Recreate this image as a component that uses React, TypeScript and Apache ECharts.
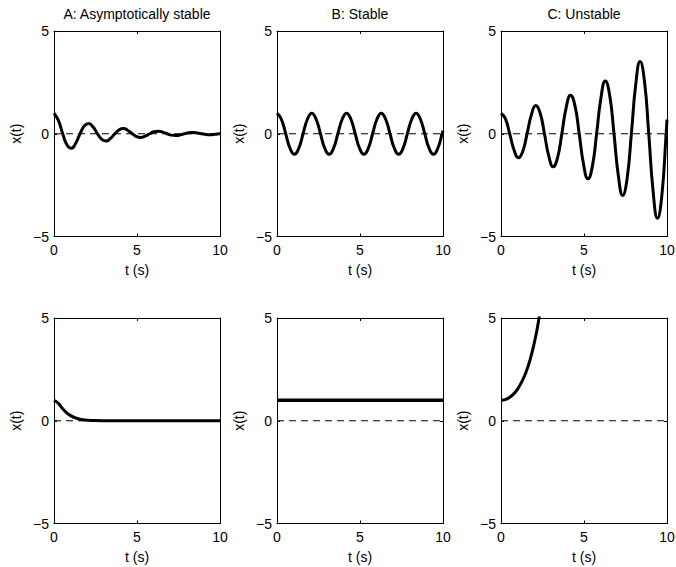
import React, { useEffect, useRef } from 'react';
import * as echarts from 'echarts';

// ---- Data ----
const panelTitles = ['A: Asymptotically stable', 'B: Stable', 'C: Unstable'];
const xTicks = [0, 5, 10];
const yTicks = [-5, 0, 5];
const xName = 't (s)';
const yName = 'x(t)';

// time samples for oscillating responses (top row)
const tOsc = [
  0, 0.262, 0.524, 0.785, 1.047, 1.309, 1.571, 1.833, 2.094, 2.356,
  2.618, 2.88, 3.142, 3.403, 3.665, 3.927, 4.189, 4.451, 4.712, 4.974,
  5.236, 5.498, 5.76, 6.021, 6.283, 6.545, 6.807, 7.069, 7.33, 7.592,
  7.854, 8.116, 8.378, 8.639, 8.901, 9.163, 9.425, 9.687, 9.948, 10,
];
const xAsymOsc = [
  1, 0.648, 0, -0.545, -0.707, -0.458, 0, 0.385, 0.5, 0.325,
  0, -0.273, -0.354, -0.229, 0, 0.193, 0.25, 0.162, 0, -0.136,
  -0.177, -0.115, 0, 0.096, 0.125, 0.081, 0, -0.068, -0.088, -0.057,
  0, 0.048, 0.063, 0.04, 0, -0.034, -0.044, -0.028, 0, 0.005,
];
const xStableOsc = [
  1, 0.707, 0, -0.707, -1, -0.707, 0, 0.707, 1, 0.707,
  0, -0.707, -1, -0.707, 0, 0.707, 1, 0.707, 0, -0.707,
  -1, -0.707, 0, 0.707, 1, 0.707, 0, -0.707, -1, -0.707,
  0, 0.707, 1, 0.707, 0, -0.707, -1, -0.707, 0, 0.15,
];
const xUnstableOsc = [
  1, 0.735, 0, -0.795, -1.17, -0.86, 0, 0.93, 1.369, 1.007,
  0, -1.089, -1.602, -1.178, 0, 1.274, 1.874, 1.378, 0, -1.491,
  -2.193, -1.613, 0, 1.745, 2.566, 1.887, 0, -2.041, -3.003, -2.208,
  0, 2.388, 3.514, 2.583, 0, -2.795, -4.111, -3.023, 0, 0.69,
];

// bottom row
const tDecay = [0, 0.25, 0.5, 0.75, 1, 1.25, 1.5, 1.75, 2, 2.5, 3, 4, 5, 6, 7, 8, 9, 10];
const xDecay = [1, 0.86, 0.61, 0.39, 0.25, 0.15, 0.088, 0.05, 0.029, 0.009, 0.003, 0, 0, 0, 0, 0, 0, 0];
const tConst = [0, 10];
const xConst = [1, 1];
const tGrow = [0, 0.25, 0.5, 0.75, 1, 1.25, 1.5, 1.75, 2, 2.25, 2.5];
const xGrow = [1, 1.031, 1.128, 1.295, 1.543, 1.888, 2.352, 2.964, 3.762, 4.797, 6.132];

const tZero = [0, 10];
const xZero = [0, 0];

// ---- Layout ----
const FONT = '"Liberation Sans", Arial, Helvetica, sans-serif';
const lefts = [54, 277, 501];
const tops = [31, 318];
const gw = 166;
const gh = 205.5;

const zip = (t: number[], v: number[]) => t.map((x, i) => [x, v[i]]);

const panels = [
  { t: tOsc, v: xAsymOsc, smooth: 0.5 },
  { t: tOsc, v: xStableOsc, smooth: 0.5 },
  { t: tOsc, v: xUnstableOsc, smooth: 0.5 },
  { t: tDecay, v: xDecay, smooth: 0.4 },
  { t: tConst, v: xConst, smooth: false },
  { t: tGrow, v: xGrow, smooth: 0.4 },
];

const minusFmt = (v: number) => (v < 0 ? '\u2212' + Math.abs(v) : String(v));

function buildOption() {
  const grid: any[] = [];
  const xAxis: any[] = [];
  const yAxis: any[] = [];
  const series: any[] = [];
  const xMin = xTicks[0];
  const xMax = xTicks[xTicks.length - 1];
  const xInt = xTicks[1] - xTicks[0];
  const yMin = yTicks[0];
  const yMax = yTicks[yTicks.length - 1];
  const yInt = yTicks[1] - yTicks[0];

  const lineStyle = { color: '#000', width: 1 };
  const tick = { show: true, inside: true, length: 3, lineStyle: { color: '#000', width: 1 } };
  const label = { color: '#000', fontSize: 14, fontFamily: FONT };

  panels.forEach((p, i) => {
    const r = Math.floor(i / 3);
    const c = i % 3;
    grid.push({
      left: lefts[c],
      top: tops[r],
      width: gw,
      height: gh,
      containLabel: false,
      outerBoundsMode: 'none',
      show: false,
    });
    const baseX = {
      gridIndex: i,
      type: 'value',
      min: xMin,
      max: xMax,
      interval: xInt,
      splitLine: { show: false },
      axisLine: { show: true, onZero: false, lineStyle },
      axisTick: tick,
    };
    xAxis.push({
      ...baseX,
      position: 'bottom',
      axisLabel: { ...label, margin: 6, showMinLabel: true, showMaxLabel: true },
      name: xName,
      nameLocation: 'middle',
      nameGap: 26,
      nameTextStyle: { ...label },
    });
    xAxis.push({ ...baseX, position: 'top', axisLabel: { show: false } });
    const baseY = {
      gridIndex: i,
      type: 'value',
      min: yMin,
      max: yMax,
      interval: yInt,
      splitLine: { show: false },
      axisLine: { show: true, onZero: false, lineStyle },
      axisTick: tick,
    };
    yAxis.push({
      ...baseY,
      position: 'left',
      axisLabel: { ...label, margin: 5, formatter: minusFmt, showMinLabel: true, showMaxLabel: true },
      name: yName,
      nameLocation: 'middle',
      nameGap: 31,
      nameTextStyle: { ...label },
    });
    yAxis.push({ ...baseY, position: 'right', axisLabel: { show: false } });

    series.push({
      type: 'line',
      xAxisIndex: 2 * i,
      yAxisIndex: 2 * i,
      data: zip(tZero, xZero),
      showSymbol: false,
      silent: true,
      lineStyle: { color: '#000', width: 1, type: [7, 5] },
      z: 2,
    });
    series.push({
      type: 'line',
      xAxisIndex: 2 * i,
      yAxisIndex: 2 * i,
      data: zip(p.t, p.v),
      smooth: p.smooth,
      showSymbol: false,
      silent: true,
      clip: true,
      lineStyle: { color: '#000', width: i === 4 ? 3.5 : 3 },
      z: 3,
    });
  });

  const graphic = panelTitles.map((t, c) => ({
    type: 'text',
    x: lefts[c] + gw / 2,
    y: 14,
    silent: true,
    style: {
      text: t,
      fill: '#000',
      fontSize: 14,
      fontFamily: FONT,
      align: 'center',
      verticalAlign: 'middle',
      textAlign: 'center',
      textVerticalAlign: 'middle',
    },
  }));

  return {
    animation: false,
    backgroundColor: '#fff',
    grid,
    xAxis,
    yAxis,
    series,
    graphic,
  };
}

export default function App() {
  const ref = useRef<HTMLDivElement>(null);
  useEffect(() => {
    document.body.style.margin = '0';
    if (!ref.current) return;
    const chart = echarts.init(ref.current, null, { renderer: 'svg' });
    chart.setOption(buildOption() as any);
    return () => chart.dispose();
  }, []);
  return <div ref={ref} style={{ width: 676, height: 567 }} />;
}
